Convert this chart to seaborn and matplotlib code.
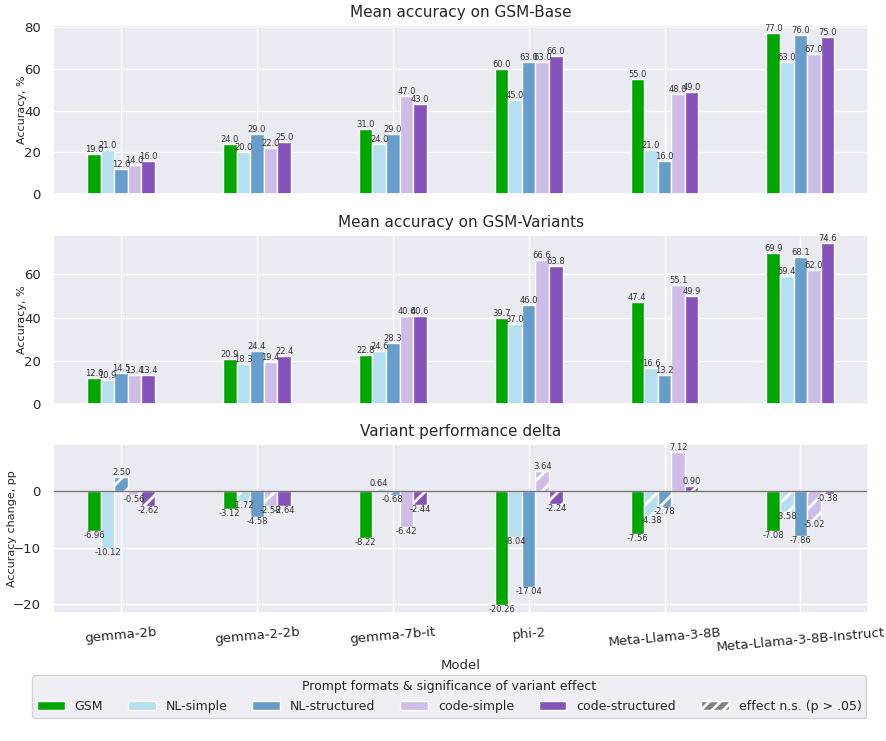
import matplotlib
matplotlib.use("Agg")
import matplotlib.pyplot as plt
from matplotlib.patches import Patch
import pandas as pd
import seaborn as sns

models = ["gemma-2b", "gemma-2-2b", "gemma-7b-it", "phi-2",
          "Meta-Llama-3-8B", "Meta-Llama-3-8B-Instruct"]
formats = ["GSM", "NL-simple", "NL-structured", "code-simple", "code-structured"]
colors = ["#00a600", "#b5dff0", "#669dcb", "#cfbce9", "#8452b8"]

# values per format, one entry per model
base = {
    "GSM":             [19.0, 24.0, 31.0, 60.0, 55.0, 77.0],
    "NL-simple":       [21.0, 20.0, 24.0, 45.0, 21.0, 63.0],
    "NL-structured":   [12.0, 29.0, 29.0, 63.0, 16.0, 76.0],
    "code-simple":     [14.0, 22.0, 47.0, 63.0, 48.0, 67.0],
    "code-structured": [16.0, 25.0, 43.0, 66.0, 49.0, 75.0],
}
variants = {
    "GSM":             [12.0, 20.9, 22.8, 39.7, 47.4, 69.9],
    "NL-simple":       [10.9, 18.3, 24.6, 37.0, 16.6, 59.4],
    "NL-structured":   [14.5, 24.4, 28.3, 46.0, 13.2, 68.1],
    "code-simple":     [13.4, 19.4, 40.6, 66.6, 55.1, 62.0],
    "code-structured": [13.4, 22.4, 40.6, 63.8, 49.9, 74.6],
}
delta = {
    "GSM":             [-6.96, -3.12, -8.22, -20.26, -7.56, -7.08],
    "NL-simple":       [-10.12, -1.72, 0.64, -8.04, -4.38, -3.58],
    "NL-structured":   [2.50, -4.58, -0.68, -17.04, -2.78, -7.86],
    "code-simple":     [-0.56, -2.58, -6.42, 3.64, 7.12, -5.02],
    "code-structured": [-2.62, -2.64, -2.44, -2.24, 0.90, -0.38],
}
# True = effect not significant (hatched)
not_sig = {
    "GSM":             [False, False, False, False, False, False],
    "NL-simple":       [False, True, True, False, True, True],
    "NL-structured":   [True, False, True, False, True, False],
    "code-simple":     [True, True, False, True, False, True],
    "code-structured": [True, False, True, True, True, True],
}


def long_df(values):
    rows = []
    for f in formats:
        for m, v in zip(models, values[f]):
            rows.append({"Model": m, "format": f, "value": v})
    return pd.DataFrame(rows)


sns.set_theme(style="darkgrid")
plt.rcParams["hatch.linewidth"] = 2.0

fig = plt.figure(figsize=(8.86, 7.41), dpi=100)
left, width, height = 0.060, 0.920, 0.228
ax1 = fig.add_axes([left, 0.738, width, height])
ax2 = fig.add_axes([left, 0.455, width, height])
ax3 = fig.add_axes([left, 0.173, width, height])

panels = [
    (ax1, base, "Mean accuracy on GSM-Base", "Accuracy, %", "%.1f", -0.032),
    (ax2, variants, "Mean accuracy on GSM-Variants", "Accuracy, %", "%.1f", -0.032),
    (ax3, delta, "Variant performance delta", "Accuracy change, pp", "%.2f", -0.044),
]

for ax, values, title, ylabel, fmt, ylab_x in panels:
    sns.barplot(data=long_df(values), x="Model", y="value", hue="format",
                hue_order=formats, palette=colors, saturation=1, width=0.5,
                edgecolor="white", linewidth=1, ax=ax, legend=False)
    for f, cont in zip(formats, ax.containers):
        if values is delta:
            for bar, ns in zip(cont, not_sig[f]):
                if ns:
                    bar.set_hatch("//")
        ax.bar_label(cont, fmt=fmt, fontsize=6, color="0.2")
    ax.set_title(title, fontsize=11)
    ax.set_ylabel(ylabel, fontsize=8)
    ax.yaxis.set_label_coords(ylab_x, 0.5)
    ax.set_xlabel("")
    ax.set_xlim(-0.5, 5.5)
    ax.tick_params(axis="y", labelsize=9.5, pad=3)
    ax.grid(True, axis="x")

ax3.axhline(0, color="0.45", lw=1)
ax1.set_xticklabels([])
ax2.set_xticklabels([])
ax3.set_xlabel("Model", fontsize=9.5, labelpad=4)
ax3.tick_params(axis="x", labelsize=9.5)
for lab in ax3.get_xticklabels():
    lab.set_rotation(5)

handles = [Patch(facecolor=c, edgecolor="white", label=f)
           for f, c in zip(formats, colors)]
handles.append(Patch(facecolor="grey", edgecolor="white", hatch="///",
                     label="effect n.s. (p > .05)"))
fig.legend(handles=handles, loc="upper center", bbox_to_anchor=(0.507, 0.097),
           ncol=6, fontsize=9, title="Prompt formats & significance of variant effect",
           title_fontsize=9, handlelength=2.2, columnspacing=2.0)

fig.savefig("out.png", dpi=100)
